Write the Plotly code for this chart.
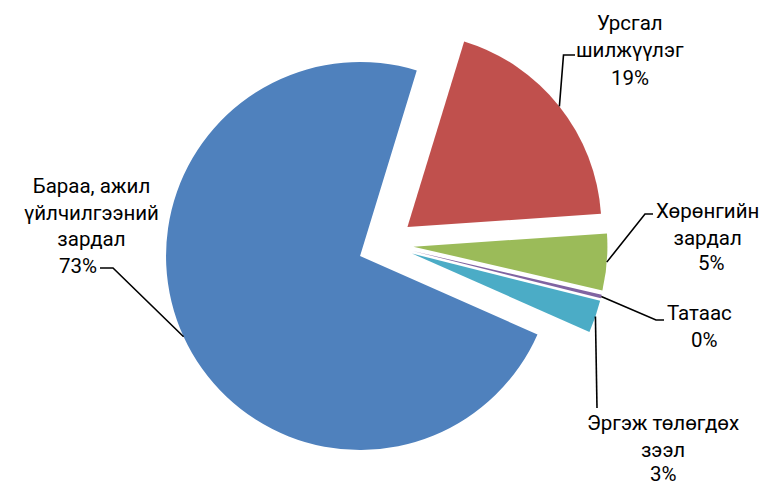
import math
import plotly.graph_objects as go

# ---- data ----
categories = ["Урсгал шилжүүлэг", "Хөрөнгийн зардал", "Татаас",
              "Эргэж төлөгдөх зээл", "Бараа, ажил үйлчилгээний зардал"]
label_lines = [["Урсгал", "шилжүүлэг"], ["Хөрөнгийн", "зардал"], ["Татаас"],
               ["Эргэж төлөгдөх", "зээл"], ["Бараа, ажил", "үйлчилгээний", "зардал"]]
values = [19.2, 4.7, 0.3, 2.7, 73.1]
colors = ["#C0504D", "#9BBB59", "#8064A2", "#4BACC6", "#4F81BD"]

# ---- layout constants (pixels, viewport coordinates) ----
OFF = 8.0  # page margin around the figure
W, H = 769 - OFF, 485 - OFF
CX, CY = 385.5, 244.4
R = 194.0
PULL = 28.0 / R
ROT = 17.0
half = R * (1 + PULL)

name_pos = [(630, 36), (707, 224), (699, 313), (663, 436), (91, 212)]
pct_pos = [(630, 78), (711, 263), (704, 340), (663, 474), (78, 266)]
elbows = [[(563.5, 55), (575, 55)],
          [(645, 214), (653, 214)],
          [(656, 320), (664, 320)],
          [(597, 408)],
          [(113, 268), (100, 268)]]

FONT = "Roboto, Noto Sans, DejaVu Sans, sans-serif"
FSIZE = 20.5


def px(x):
    return (x - OFF) / W


def py(y):
    return 1 - (y - OFF) / H


total = sum(values)

fig = go.Figure(go.Pie(
    labels=categories, values=values, sort=False, direction="clockwise",
    rotation=ROT, pull=[PULL] * len(values), textinfo="none",
    marker=dict(colors=colors, line=dict(width=0)), showlegend=False,
    hoverinfo="label+percent",
    domain=dict(x=[px(CX - half), px(CX + half)], y=[py(CY + half), py(CY - half)]),
))

shapes = []
annotations = []
cum = 0.0
for i, v in enumerate(values):
    mid = math.radians(ROT + 360.0 * (cum + v / 2) / total)
    cum += v
    ax = CX + half * math.sin(mid)
    ay = CY - half * math.cos(mid)
    pts = [(ax, ay)] + elbows[i]
    path = "M {} {}".format(px(pts[0][0]), py(pts[0][1]))
    for (x, y) in pts[1:]:
        path += " L {} {}".format(px(x), py(y))
    shapes.append(dict(type="path", xref="paper", yref="paper", path=path,
                       line=dict(color="black", width=1.6)))
    pct = "{}%".format(round(v / total * 100))
    for text, (lx, ly) in (("<br>".join(label_lines[i]), name_pos[i]), (pct, pct_pos[i])):
        annotations.append(dict(x=px(lx), y=py(ly), xref="paper", yref="paper",
                                text=text, showarrow=False, xanchor="center",
                                yanchor="middle", align="center",
                                font=dict(family=FONT, size=FSIZE, color="black")))

fig.update_layout(width=W, height=H, margin=dict(l=0, r=0, t=0, b=0),
                  paper_bgcolor="white", plot_bgcolor="white",
                  shapes=shapes, annotations=annotations)

fig.write_html("out.html")
